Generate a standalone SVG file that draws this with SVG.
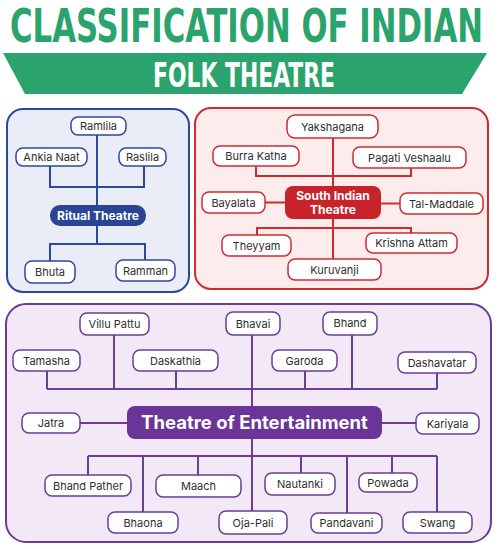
<svg xmlns="http://www.w3.org/2000/svg" width="501" height="549" viewBox="0 0 501 549">
<style>
.title{font-family:"DejaVu Sans Condensed","DejaVu Sans","Liberation Sans",sans-serif;font-weight:bold;fill:#2ba36c}
.sub{font-family:"DejaVu Sans Condensed","DejaVu Sans","Liberation Sans",sans-serif;font-weight:bold;fill:#ffffff}
.lbl{font-family:Inter,"Noto Sans",sans-serif;font-size:11px;fill:#2e2e2e;text-anchor:middle}
.hd{font-family:Inter,"Noto Sans",sans-serif;font-weight:bold;fill:#ffffff;text-anchor:middle}
.nb rect{fill:#ffffff;stroke:#2b4a9b;stroke-width:1.5}
.nr rect{fill:#ffffff;stroke:#cf2a30;stroke-width:1.5}
.np rect{fill:#ffffff;stroke:#6b3d99;stroke-width:1.5}
.cb{fill:none;stroke:#2b4a9b;stroke-width:2}
.cr{fill:none;stroke:#cf2a30;stroke-width:2}
.cp{fill:none;stroke:#6b3d99;stroke-width:2}
</style>
<rect width="501" height="549" fill="#ffffff"/>
<g id="title">
<text class="title" transform="translate(10 42) scale(1 1.45)" x="0" y="0" font-size="31.5" textLength="473" lengthAdjust="spacingAndGlyphs">CLASSIFICATION OF INDIAN</text>
<polygon points="3,53 487,53 462,94 25,94" fill="#2ba36c"/>
<text class="sub" x="153" y="87" font-size="34" textLength="182" lengthAdjust="spacingAndGlyphs">FOLK THEATRE</text>
</g>
<g id="panels">
<rect x="7" y="109" width="182" height="183" rx="16" fill="#eaedf8" stroke="#2b4a9b" stroke-width="2"/>
<rect x="195" y="108" width="293" height="181" rx="16" fill="#fcecec" stroke="#cf2a30" stroke-width="2"/>
<rect x="6" y="304" width="485" height="238" rx="20" fill="#f3e9f6" stroke="#6b3d99" stroke-width="2"/>
</g>
<g id="connectors">
<path class="cb" d="M97 135V205M50 166V187H144V166M97 226V244M50 261V244H145V260"/>
<path class="cr" d="M333 138V186M256 166V176H411V168M265 202.5H285M381 203.5H400M333 219V259M257 235V228H411V233"/>
<path class="cp" d="M47 389H437M47 371V389M114 335V389M176 371V389M252 335V406M305 371V389M352 335V389M437 373V389M80 423H127M382 423H416M252 439V511M88 456H437M88 456V475M143 456V512M198 456V475M301 456V473M347 456V513M392 456V473M437 456V512"/>
</g>
<g id="ritual-theatre"><rect x="50" y="205" width="96" height="21" rx="10" fill="#2a4596"/><text class="hd" x="98" y="220" font-size="12">Ritual Theatre</text></g>
<g id="ramlila" class="nb"><rect x="71" y="117" width="55" height="18" rx="7"/><text class="lbl" x="98.5" y="130">Ramlila</text></g>
<g id="ankia-naat" class="nb"><rect x="16" y="148" width="71" height="18" rx="7"/><text class="lbl" x="51.5" y="161">Ankia Naat</text></g>
<g id="raslila" class="nb"><rect x="119" y="148" width="47" height="18" rx="7"/><text class="lbl" x="142.5" y="161">Raslila</text></g>
<g id="bhuta" class="nb"><rect x="25" y="261" width="50" height="22" rx="7"/><text class="lbl" x="50" y="276">Bhuta</text></g>
<g id="ramman" class="nb"><rect x="116" y="260" width="59" height="21" rx="7"/><text class="lbl" x="145.5" y="274.5">Ramman</text></g>

<g id="south-indian-theatre"><rect x="285" y="186" width="96" height="33" rx="8" fill="#c8232b"/><text class="hd" x="333" y="200" font-size="12">South Indian</text><text class="hd" x="333" y="214" font-size="12">Theatre</text></g>
<g id="yakshagana" class="nr"><rect x="287" y="115" width="91" height="23" rx="8"/><text class="lbl" x="332.5" y="130.5">Yakshagana</text></g>
<g id="burra-katha" class="nr"><rect x="213" y="146" width="86" height="20" rx="7"/><text class="lbl" x="256" y="160">Burra Katha</text></g>
<g id="pagati-veshaalu" class="nr"><rect x="353" y="147" width="113" height="21" rx="7"/><text class="lbl" x="409.5" y="161.5">Pagati Veshaalu</text></g>
<g id="bayalata" class="nr"><rect x="202" y="192" width="63" height="21" rx="7"/><text class="lbl" x="233.5" y="206.5">Bayalata</text></g>
<g id="tal-maddale" class="nr"><rect x="400" y="193" width="83" height="21" rx="7"/><text class="lbl" x="441.5" y="207.5">Tal-Maddale</text></g>
<g id="theyyam" class="nr"><rect x="222" y="235" width="69" height="21" rx="7"/><text class="lbl" x="256.5" y="249.5">Theyyam</text></g>
<g id="krishna-attam" class="nr"><rect x="366" y="233" width="91" height="20" rx="7"/><text class="lbl" x="411.5" y="247">Krishna Attam</text></g>
<g id="kuruvanji" class="nr"><rect x="288" y="259" width="93" height="21" rx="7"/><text class="lbl" x="334.5" y="273.5">Kuruvanji</text></g>

<g id="theatre-of-entertainment"><rect x="127" y="406" width="255" height="33" rx="8" fill="#6a3596"/><text class="hd" x="254.5" y="428.5" font-size="18.5">Theatre of Entertainment</text></g>
<g id="villu-pattu" class="np"><rect x="80" y="313" width="69" height="22" rx="7"/><text class="lbl" x="114.5" y="328">Villu Pattu</text></g>
<g id="bhavai" class="np"><rect x="226" y="312" width="54" height="23" rx="7"/><text class="lbl" x="253" y="327.5">Bhavai</text></g>
<g id="bhand" class="np"><rect x="323" y="312" width="54" height="23" rx="7"/><text class="lbl" x="350" y="327">Bhand</text></g>
<g id="tamasha" class="np"><rect x="13" y="350" width="67" height="21" rx="7"/><text class="lbl" x="46.5" y="364.5">Tamasha</text></g>
<g id="daskathia" class="np"><rect x="133" y="350" width="85" height="21" rx="7"/><text class="lbl" x="175.5" y="364.5">Daskathia</text></g>
<g id="garoda" class="np"><rect x="272" y="350" width="65" height="21" rx="7"/><text class="lbl" x="304.5" y="364.5">Garoda</text></g>
<g id="dashavatar" class="np"><rect x="398" y="352" width="78" height="21" rx="7"/><text class="lbl" x="437" y="366.5">Dashavatar</text></g>
<g id="jatra" class="np"><rect x="22" y="413" width="58" height="20" rx="7"/><text class="lbl" x="51" y="427">Jatra</text></g>
<g id="kariyala" class="np"><rect x="416" y="413" width="63" height="21" rx="7"/><text class="lbl" x="447.5" y="427.5">Kariyala</text></g>
<g id="bhand-pather" class="np"><rect x="45" y="475" width="86" height="21" rx="7"/><text class="lbl" x="88" y="489.5">Bhand Pather</text></g>
<g id="maach" class="np"><rect x="156" y="475" width="85" height="22" rx="7"/><text class="lbl" x="198.5" y="490">Maach</text></g>
<g id="nautanki" class="np"><rect x="265" y="473" width="70" height="22" rx="7"/><text class="lbl" x="300" y="488">Nautanki</text></g>
<g id="powada" class="np"><rect x="359" y="473" width="58" height="19" rx="7"/><text class="lbl" x="388" y="486.5">Powada</text></g>
<g id="bhaona" class="np"><rect x="108" y="512" width="70" height="21" rx="7"/><text class="lbl" x="143" y="526.5">Bhaona</text></g>
<g id="oja-pali" class="np"><rect x="219" y="511" width="68" height="23" rx="7"/><text class="lbl" x="253" y="526.5">Oja-Pali</text></g>
<g id="pandavani" class="np"><rect x="311" y="513" width="71" height="20" rx="7"/><text class="lbl" x="346.5" y="527">Pandavani</text></g>
<g id="swang" class="np"><rect x="403" y="512" width="69" height="21" rx="7"/><text class="lbl" x="437.5" y="526.5">Swang</text></g>
</svg>
